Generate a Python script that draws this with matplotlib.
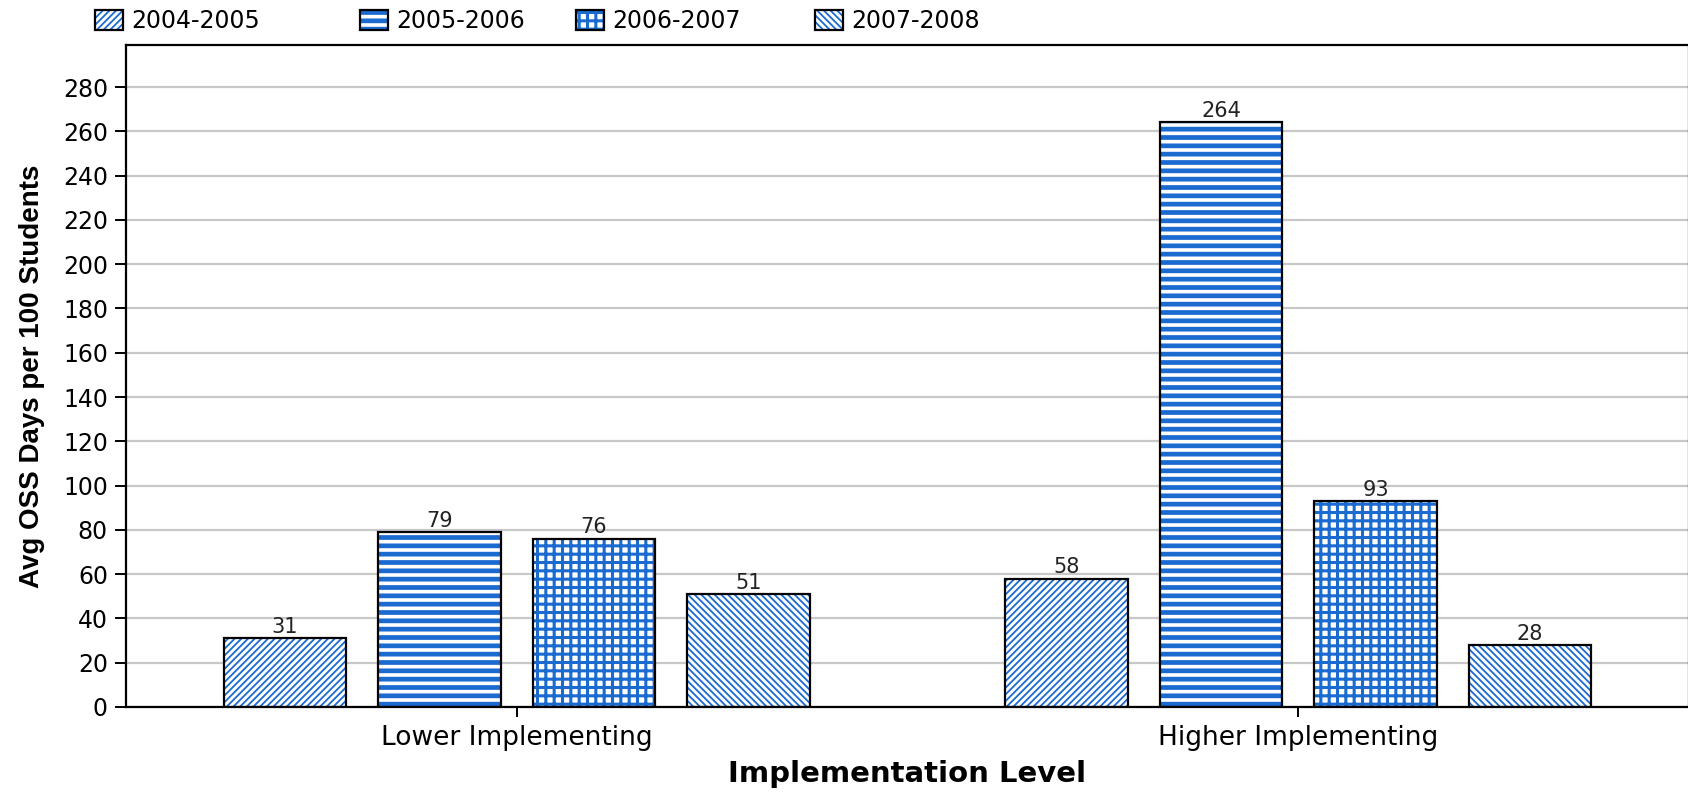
import matplotlib; matplotlib.use('Agg')
import matplotlib.pyplot as plt, numpy as np
from matplotlib.patches import Patch

plt.rcParams.update({'font.family': ['DejaVu Sans'], 'figure.dpi': 100})
BLUE = '#1a6ad0'

groups = ['Lower Implementing', 'Higher Implementing']
years = ['2004-2005', '2005-2006', '2006-2007', '2007-2008']
values = {
    '2004-2005': [31, 58],
    '2005-2006': [79, 264],
    '2006-2007': [76, 93],
    '2007-2008': [51, 28],
}
hatches = ['/////', '--', '++', '\\\\\\\\\\']
hatch_lw = [1.3, 3.4, 2.2, 1.3]
legend_x = [95, 360, 576, 815]  # left edge of each legend swatch, px

fig = plt.figure(figsize=(16.88, 7.92))
ax = fig.add_axes([126 / 1688, 85 / 792, 1563 / 1688, 662 / 792])

x = np.arange(len(groups))
width, step = 0.157, 0.1977
for i, yr in enumerate(years):
    pos = x + (i - 1.5) * step
    with plt.rc_context({'hatch.linewidth': hatch_lw[i]}):
        ax.bar(pos, values[yr], width, color='white', edgecolor=BLUE,
               hatch=hatches[i], lw=0, zorder=2)
        h1 = Patch(facecolor='white', edgecolor=BLUE, hatch=hatches[i], lw=0)
        h2 = Patch(fill=False, edgecolor='black', lw=1.6)
        fig.legend([(h1, h2)], [yr], loc='center left',
                   bbox_to_anchor=(legend_x[i] / 1688, 1 - 21 / 792),
                   frameon=False, fontsize=17, handlelength=1.2, handleheight=0.9,
                   handletextpad=0.35, borderpad=0, borderaxespad=0)
    ax.bar(pos, values[yr], width, fill=False, edgecolor='black', lw=1.6, zorder=3)
    for p, v in zip(pos, values[yr]):
        ax.annotate(str(v), (p, v), xytext=(0, 1), textcoords='offset points',
                    ha='center', va='bottom', fontsize=15, color='#222222')

ax.set_xlim(-0.5, 1.5)
ax.set_ylim(0, 299)
ax.set_yticks(np.arange(0, 281, 20))
ax.set_xticks(x)
ax.set_xticklabels(groups, fontsize=19)
ax.tick_params(axis='y', labelsize=17, length=8, width=1.4, pad=5)
ax.tick_params(axis='x', length=7, width=1.4, pad=6)
ax.grid(axis='y', color='#c8c8c8', lw=1.6, zorder=0)
ax.set_axisbelow(True)
for s in ax.spines.values():
    s.set_linewidth(1.6)

ax.set_xlabel('Implementation Level', fontsize=21, fontweight='bold')
ax.xaxis.set_label_coords(0.5, -0.101)
ax.xaxis.label.set_va('center')
ax.set_ylabel('Avg OSS Days per 100 Students', fontsize=20, fontweight='bold',
              family=['Liberation Sans', 'DejaVu Sans'])
ax.yaxis.set_label_coords(-0.060, 0.5)
ax.yaxis.label.set_va('center')

fig.savefig('out.png', dpi=100)
